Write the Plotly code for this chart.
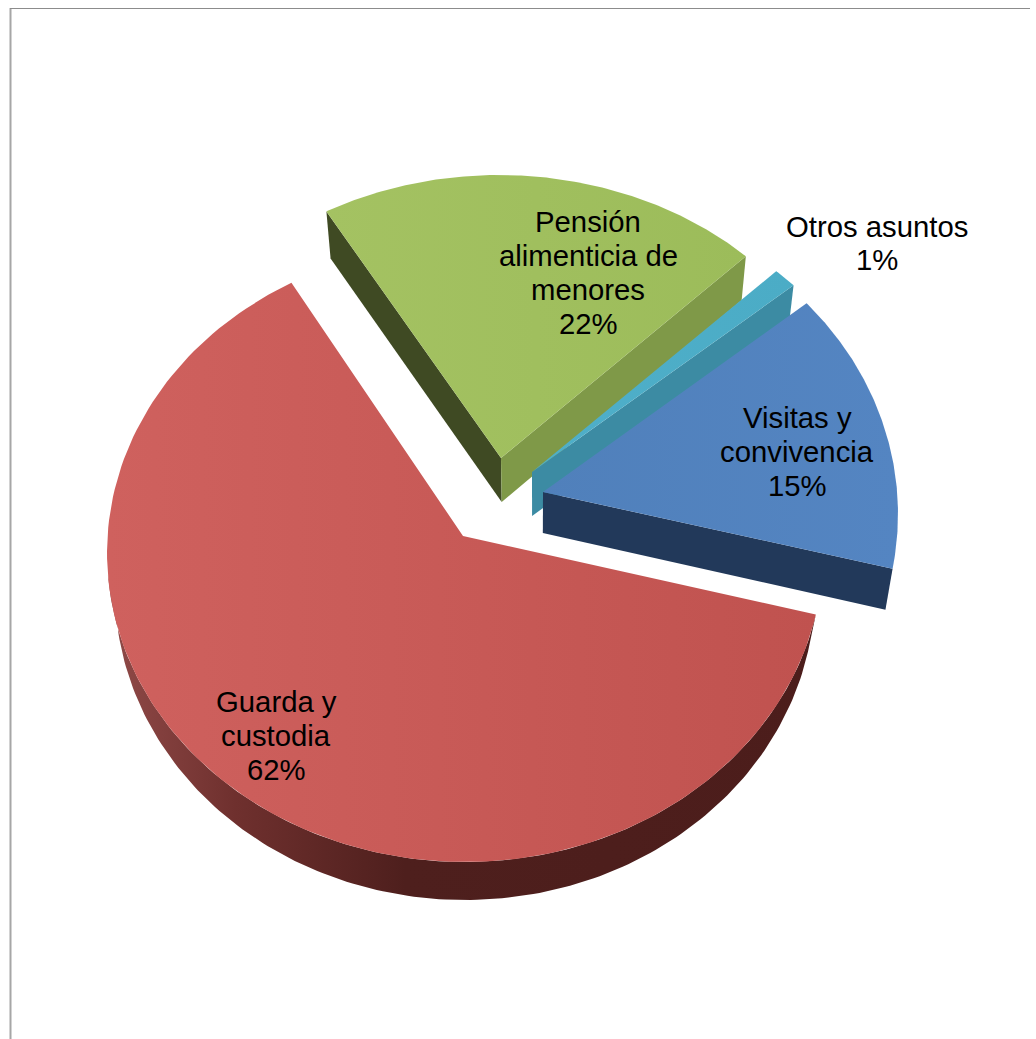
import numpy as np
import plotly.graph_objects as go

# ---- data ----
categories = ["Guarda y\ncustodia", "Pensión\nalimenticia de\nmenores", "Otros asuntos", "Visitas y\nconvivencia"]
values = [62, 22, 1, 15]

# ---- view geometry of the tilted, exploded pie (pixels) ----
start_angle = 101.5
boundary_skew = [0, 6.3, 0, 0.5, -1.5]      # perspective correction at slice boundaries
ellipse_cx = [465, 499, 529, 542]
ellipse_cy = [553, 466, 476, 514]
ellipse_rx = [358, 356, 356, 356]
ellipse_ry = [309, 291, 285, 315]
apex_x = [463, 501, 532, 543]
apex_y = [536, 458, 472, 492]
depth = [38, 44, 44, 41]
far_edge_extra = [0, 3, 0, 0]
label_x = [276, 588, 877, 797]
label_y = [735.5, 272.5, 243, 451.5]
line_gap = 33.7

top_colors = [("#cf615e", "#c0524f"), ("#a4c262", "#9cbc5a"), ("#4fafc9", "#4bacc6"), ("#5080bb", "#5485c2")]
wall_a = ["#863f3d", "#3f4a23", "#3c8ba3", "#22395a"]
wall_b = [None, "#7f9948", None, None]

# ---- slice angles from the values ----
cum = np.concatenate([[0], np.cumsum(values)]) / sum(values) * 360
bounds = start_angle + cum + np.array(boundary_skew)


def arc(i, a0, a1, n=160):
    th = np.radians(np.linspace(a0, a1, n))
    return ellipse_cx[i] + ellipse_rx[i] * np.sin(th), ellipse_cy[i] - ellipse_ry[i] * np.cos(th)


def lower(x, y, i):
    # the extruded edge below a point of the top face, slightly drawn to the vanishing point
    x = np.asarray(x, float)
    return x + (535 - x) * 0.02, np.asarray(y, float) + depth[i]


def poly(fig, x, y, color=None, gradient=None):
    kw = dict(x=list(x), y=list(y), mode="lines", fill="toself", line=dict(width=0),
              hoverinfo="skip", showlegend=False)
    if gradient is not None:
        kw["fillgradient"] = dict(type="horizontal", colorscale=gradient)
        kw["fillcolor"] = gradient[0][1]
    else:
        kw["fillcolor"] = color
    fig.add_trace(go.Scatter(**kw))


fig = go.Figure()

# Red slice: curved outer wall, lower rim has its own ellipse
ax, ay = arc(0, bounds[0], 266)
th = np.radians(np.linspace(266, bounds[0], 160))
bx = 465 + 350 * np.sin(th)
by = 590 - 310 * np.cos(th)
poly(fig, np.concatenate([ax, bx]), np.concatenate([ay, by]),
     gradient=[[0, "#904a48"], [0.18, "#6f302e"], [0.42, "#4e1f1d"], [1, "#4c1d1b"]])

for i in range(4):
    a0, a1 = bounds[i], bounds[i + 1]
    x, y = arc(i, a0, a1)
    if i != 0:
        # radial walls
        lx, ly = lower([apex_x[i], x[0], apex_x[i], x[-1]], [apex_y[i], y[0], apex_y[i], y[-1]], i)
        if i == 1:
            poly(fig, [apex_x[i], x[0], lx[1], lx[0]],
                 [apex_y[i], y[0], ly[1] + far_edge_extra[i], ly[0]], wall_a[i])
            poly(fig, [apex_x[i], x[-1], lx[3], lx[2]], [apex_y[i], y[-1], ly[3], ly[2]], wall_b[i])
        else:
            poly(fig, [apex_x[i], x[-1], lx[3], lx[2]], [apex_y[i], y[-1], ly[3], ly[2]], wall_a[i])
    # top face
    c0, c1 = top_colors[i]
    poly(fig, np.concatenate([[apex_x[i]], x]), np.concatenate([[apex_y[i]], y]),
         gradient=[[0, c0], [1, c1]])

# Labels
anns = []
for i, (cat, val) in enumerate(zip(categories, values)):
    lines = cat.split("\n") + [f"{val}%"]
    for k, t in enumerate(lines):
        anns.append(dict(x=label_x[i], y=label_y[i] + (k - (len(lines) - 1) / 2) * line_gap,
                         text=t, showarrow=False, xref="x", yref="y",
                         xanchor="center", yanchor="middle",
                         font=dict(family="Liberation Sans", size=29.3, color="#000000")))

shapes = [
    dict(type="line", x0=10.5, x1=10.5, y0=8, y1=1039, line=dict(color="#a6a6a6", width=2), layer="above"),
    dict(type="line", x0=10, x1=1030, y0=8.5, y1=8.5, line=dict(color="#8c8c8c", width=1), layer="above"),
]

fig.update_layout(
    width=1036, height=1039, margin=dict(l=0, r=0, t=0, b=0),
    paper_bgcolor="white", plot_bgcolor="white", showlegend=False,
    xaxis=dict(range=[0, 1036], visible=False, fixedrange=True),
    yaxis=dict(range=[1039, 0], visible=False, fixedrange=True),
    annotations=anns, shapes=shapes,
)
fig.write_html("out.html", config={"displayModeBar": False},
               post_script="document.body.style.margin='0';document.body.style.overflow='hidden';")
